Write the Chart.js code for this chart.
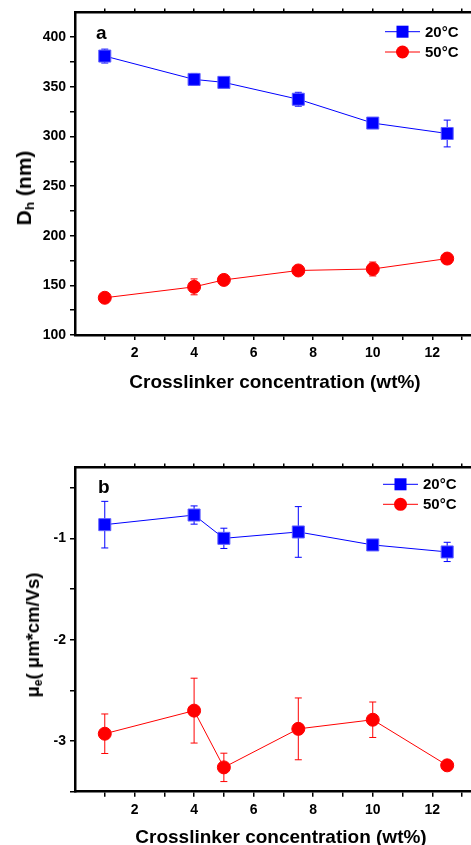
<!DOCTYPE html>
<html>
<head>
<meta charset="utf-8">
<script src="https://cdn.jsdelivr.net/npm/chart.js@4.4.0/dist/chart.umd.min.js"></script>
<style>
  html, body { margin: 0; padding: 0; background: #fff; }
  body { width: 471px; height: 845px; position: relative; overflow: hidden; font-family: "Liberation Sans", Arial, sans-serif; }
  canvas { position: absolute; left: 0; }
  .title { position: absolute; font-weight: bold; color: #000; white-space: nowrap; transform: translate(-50%, -50%); line-height: 1; }
  .ytitle { transform: translate(-50%, -50%) rotate(-90deg); }
  sub { font-size: 0.65em; vertical-align: -0.25em; }
</style>
</head>
<body>
<canvas id="chartA" width="471" height="400" style="top:0px"></canvas>
<canvas id="chartB" width="471" height="390" style="top:455px"></canvas>

<div class="title" style="left:275px; top:381px; font-size:19px;">Crosslinker concentration (wt%)</div>
<div class="title" style="left:281px; top:836px; font-size:19px;">Crosslinker concentration (wt%)</div>
<div class="title ytitle" style="left:25px; top:188px; font-size:21px;">D<sub>h</sub> (nm)</div>
<div class="title ytitle" style="left:34px; top:635px; font-size:18.5px;">μ<sub>e</sub>( μm*cm/Vs)</div>

<script>
// data
const conc = [1, 4, 5, 7.5, 10, 12.5];

const dh20 = [381, 357.5, 354.5, 337.5, 313.5, 303];
const dh20Err = [7, 6, 2, 7, 2, 13.5];
const dh50 = [137.5, 148.5, 155.5, 165, 166.5, 177];
const dh50Err = [4, 8, 3, 3, 7, 3];

const mu20 = [-0.865, -0.77, -1.0, -0.937, -1.065, -1.134];
const mu20Err = [0.23, 0.09, 0.1, 0.25, 0.02, 0.095];
const mu50 = [-2.928, -2.70, -3.26, -2.88, -2.79, -3.24];
const mu50Err = [0.195, 0.32, 0.14, 0.305, 0.175, 0.02];

const seriesLabels = ['20°C', '50°C'];

// ticks
const xTicks = [1, 2, 3, 4, 5, 6, 7, 8, 9, 10, 11, 12, 13];
const xLabels = [2, 4, 6, 8, 10, 12];
const yTicksA = [100, 125, 150, 175, 200, 225, 250, 275, 300, 325, 350, 375, 400];
const yLabelsA = [100, 150, 200, 250, 300, 350, 400];
const yTicksB = [-3.5, -3, -2.5, -2, -1.5, -1, -0.5];
const yLabelsB = [-3, -2, -1];

const BLUE = '#0000ff';
const RED = '#ff0000';
const tickFont = { family: '"Liberation Sans", Arial, sans-serif', weight: 'bold', size: 14 };

function pts(xs, ys) {
  return xs.map((x, i) => ({ x: x, y: ys[i] }));
}

// error bars, drawn under the markers
const errorBars = {
  id: 'errorBars',
  beforeDatasetsDraw(chart) {
    const ctx = chart.ctx;
    const ys = chart.scales.y;
    chart.data.datasets.forEach((ds, di) => {
      const meta = chart.getDatasetMeta(di);
      ctx.save();
      ctx.strokeStyle = ds.borderColor;
      ctx.lineWidth = 1;
      meta.data.forEach((el, i) => {
        const v = ds.data[i].y, e = ds.errors[i];
        const top = ys.getPixelForValue(v + e);
        const bot = ys.getPixelForValue(v - e);
        ctx.beginPath();
        ctx.moveTo(el.x, top); ctx.lineTo(el.x, bot);
        ctx.moveTo(el.x - 3.5, top); ctx.lineTo(el.x + 3.5, top);
        ctx.moveTo(el.x - 3.5, bot); ctx.lineTo(el.x + 3.5, bot);
        ctx.stroke();
      });
      ctx.restore();
    });
  }
};

// legend + panel letter
const decor = {
  id: 'decor',
  afterDraw(chart, args, opts) {
    const ctx = chart.ctx;
    ctx.save();
    ctx.fillStyle = '#000';
    ctx.font = 'bold 19px "Liberation Sans", Arial, sans-serif';
    ctx.textBaseline = 'alphabetic';
    ctx.fillText(opts.letter, opts.letterX, opts.letterY);
    chart.data.datasets.forEach((ds, i) => {
      const y = opts.legendY[i];
      const cx = opts.legendX + 17.5;
      ctx.strokeStyle = ds.borderColor;
      ctx.lineWidth = 1;
      ctx.beginPath();
      ctx.moveTo(opts.legendX, y);
      ctx.lineTo(opts.legendX + 35, y);
      ctx.stroke();
      ctx.fillStyle = ds.backgroundColor;
      ctx.beginPath();
      if (ds.pointStyle === 'rect') {
        const s = ds.pointRadius * Math.SQRT1_2;
        ctx.rect(cx - s, y - s, 2 * s, 2 * s);
      } else {
        ctx.arc(cx, y, ds.pointRadius, 0, Math.PI * 2);
      }
      ctx.fill();
      ctx.fillStyle = '#000';
      ctx.font = 'bold 15px "Liberation Sans", Arial, sans-serif';
      ctx.textBaseline = 'middle';
      ctx.fillText(seriesLabels[i], opts.legendX + 40, y + 1);
    });
    ctx.restore();
  }
};

function makeChart(id, s20, e20, s50, e50, yMin, yMax, yTicks, yLabels, bottomH, decorOpts) {
  return new Chart(document.getElementById(id), {
    type: 'line',
    data: {
      datasets: [
        {
          label: seriesLabels[0], data: pts(conc, s20), errors: e20,
          borderColor: BLUE, backgroundColor: BLUE, borderWidth: 1,
          pointStyle: 'rect', pointRadius: 8.5, pointBorderWidth: 1,
          pointBorderColor: '#6060ff', tension: 0
        },
        {
          label: seriesLabels[1], data: pts(conc, s50), errors: e50,
          borderColor: RED, backgroundColor: RED, borderWidth: 1,
          pointStyle: 'circle', pointRadius: 6.5, pointBorderWidth: 1,
          tension: 0
        }
      ]
    },
    options: {
      responsive: false,
      animation: false,
      events: [],
      layout: { padding: 0, autoPadding: false },
      plugins: {
        legend: { display: false },
        tooltip: { enabled: false },
        decor: decorOpts
      },
      scales: {
        x: {
          type: 'linear', position: 'bottom', min: 0, max: 13.3,
          border: { display: true, color: '#000', width: 2.5 },
          grid: { display: true, drawOnChartArea: false, drawTicks: true, tickLength: 5, color: '#000', lineWidth: 1.5 },
          afterBuildTicks: (s) => { s.ticks = xTicks.map(v => ({ value: v })); },
          ticks: {
            autoSkip: false, maxRotation: 0, padding: 5, color: '#000', font: tickFont,
            callback: (v) => xLabels.includes(v) ? String(v) : ''
          },
          afterFit: (s) => { s.height = bottomH; }
        },
        xTop: {
          type: 'linear', position: 'top', min: 0, max: 13.3,
          border: { display: true, color: '#000', width: 2.5 },
          grid: { display: true, drawOnChartArea: false, drawTicks: true, tickLength: 4, color: '#000', lineWidth: 1.5 },
          afterBuildTicks: (s) => { s.ticks = xTicks.map(v => ({ value: v })); },
          ticks: { autoSkip: false, maxRotation: 0, padding: 0, callback: () => '' },
          afterFit: (s) => { s.height = 10; }
        },
        y: {
          type: 'linear', position: 'left', min: yMin, max: yMax,
          border: { display: true, color: '#000', width: 2.5 },
          grid: { display: true, drawOnChartArea: false, drawTicks: true, tickLength: 5, color: '#000', lineWidth: 1.5 },
          afterBuildTicks: (s) => { s.ticks = yTicks.map(v => ({ value: v })); },
          ticks: {
            autoSkip: false, padding: 4, color: '#000', font: tickFont,
            callback: (v) => yLabels.includes(v) ? String(v) : ''
          },
          afterFit: (s) => { s.width = 75; }
        }
      }
    },
    plugins: [errorBars, decor]
  });
}

makeChart('chartA', dh20, dh20Err, dh50, dh50Err, 100, 425, yTicksA, yLabelsA, 65, {
  letter: 'a', letterX: 96, letterY: 39, legendX: 385, legendY: [31.7, 52]
});

makeChart('chartB', mu20, mu20Err, mu50, mu50Err, -3.5, -0.3, yTicksB, yLabelsB, 53.3, {
  letter: 'b', letterX: 98, letterY: 38, legendX: 383, legendY: [29.3, 49.3]
});
</script>
</body>
</html>
